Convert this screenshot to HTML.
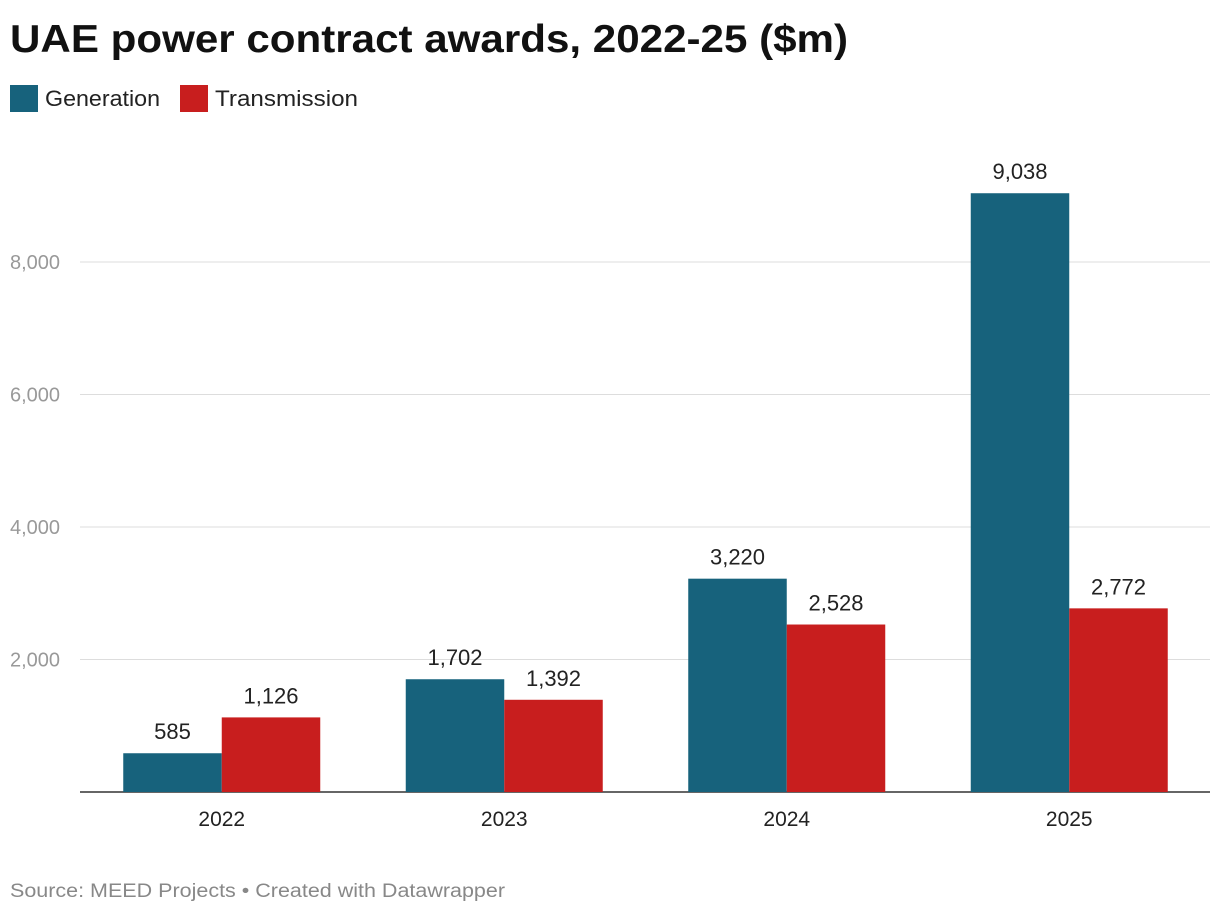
<!DOCTYPE html>
<html><head><meta charset="utf-8"><style>
body{margin:0;background:#fff;font-family:"Liberation Sans",Arial,sans-serif;}
svg text{font-family:"Liberation Sans",Arial,sans-serif;}
</style></head><body>
<svg id="c" width="1220" height="914" xmlns="http://www.w3.org/2000/svg">
<text x="10" y="52" font-size="39" font-weight="bold" fill="#111" textLength="838" lengthAdjust="spacingAndGlyphs">UAE power contract awards, 2022-25 ($m)</text>
<g>
<rect x="10" y="85" width="28" height="27" fill="#17627c"/>
<text x="45" y="106" font-size="22" fill="#222" textLength="115" lengthAdjust="spacingAndGlyphs">Generation</text>
<rect x="180" y="85" width="28" height="27" fill="#c81e1e"/>
<text x="215" y="106" font-size="22" fill="#222" textLength="143" lengthAdjust="spacingAndGlyphs">Transmission</text>
</g>
<g id="grid"></g><g id="bars"></g><g id="labels"></g>
<text x="10" y="897" font-size="19" fill="#888" textLength="495" lengthAdjust="spacingAndGlyphs">Source: MEED Projects • Created with Datawrapper</text>
</svg>
<script>
const categories=["2022","2023","2024","2025"];
const generation=[585,1702,3220,9038];
const transmission=[1126,1392,2528,2772];
const ticks=[2000,4000,6000,8000];
const tickLabels=["2,000","4,000","6,000","8,000"];
const NS="http://www.w3.org/2000/svg";
const x0=80.5,band=282.5,bw=98.5,base=792,perUnit=0.06625;
const y=v=>base-v*perUnit;
const xc=i=>x0+band*(i+0.5);
const fmt=v=>v.toLocaleString("en-US");
function mk(t,a,p){const e=document.createElementNS(NS,t);for(const k in a)e.setAttribute(k,a[k]);p.appendChild(e);return e;}
const g=document.getElementById("grid"),b=document.getElementById("bars"),l=document.getElementById("labels");
ticks.forEach((t,i)=>{
 const ln=mk("line",{x1:80,x2:1210,y1:y(t),y2:y(t),stroke:"#ddd","stroke-width":1},g);
 
 
 const tx=mk("text",{x:10,y:y(t)+7,"font-size":20,fill:"#999"},g);tx.textContent=tickLabels[i];
 
 
});
const ax=mk("line",{x1:80,x2:1210,y1:base,y2:base,stroke:"#333","stroke-width":1.5},g);


categories.forEach((c,i)=>{
 const cx=xc(i);
 [[generation[i],cx-bw,"#17627c","generation"],[transmission[i],cx,"#c81e1e","transmission"]].forEach(([v,x,col,n])=>{
  const r=mk("rect",{x:x,y:y(v),width:bw,height:base-y(v),fill:col},b);
  
  
  const t=mk("text",{x:x+bw/2,y:y(v)-14,"font-size":22,fill:"#222","text-anchor":"middle"},l);t.textContent=fmt(v);
  
  
 });
 const t=mk("text",{x:cx,y:826,"font-size":21,fill:"#222","text-anchor":"middle"},l);t.textContent=c;
 
 
});
</script>
</body></html>
